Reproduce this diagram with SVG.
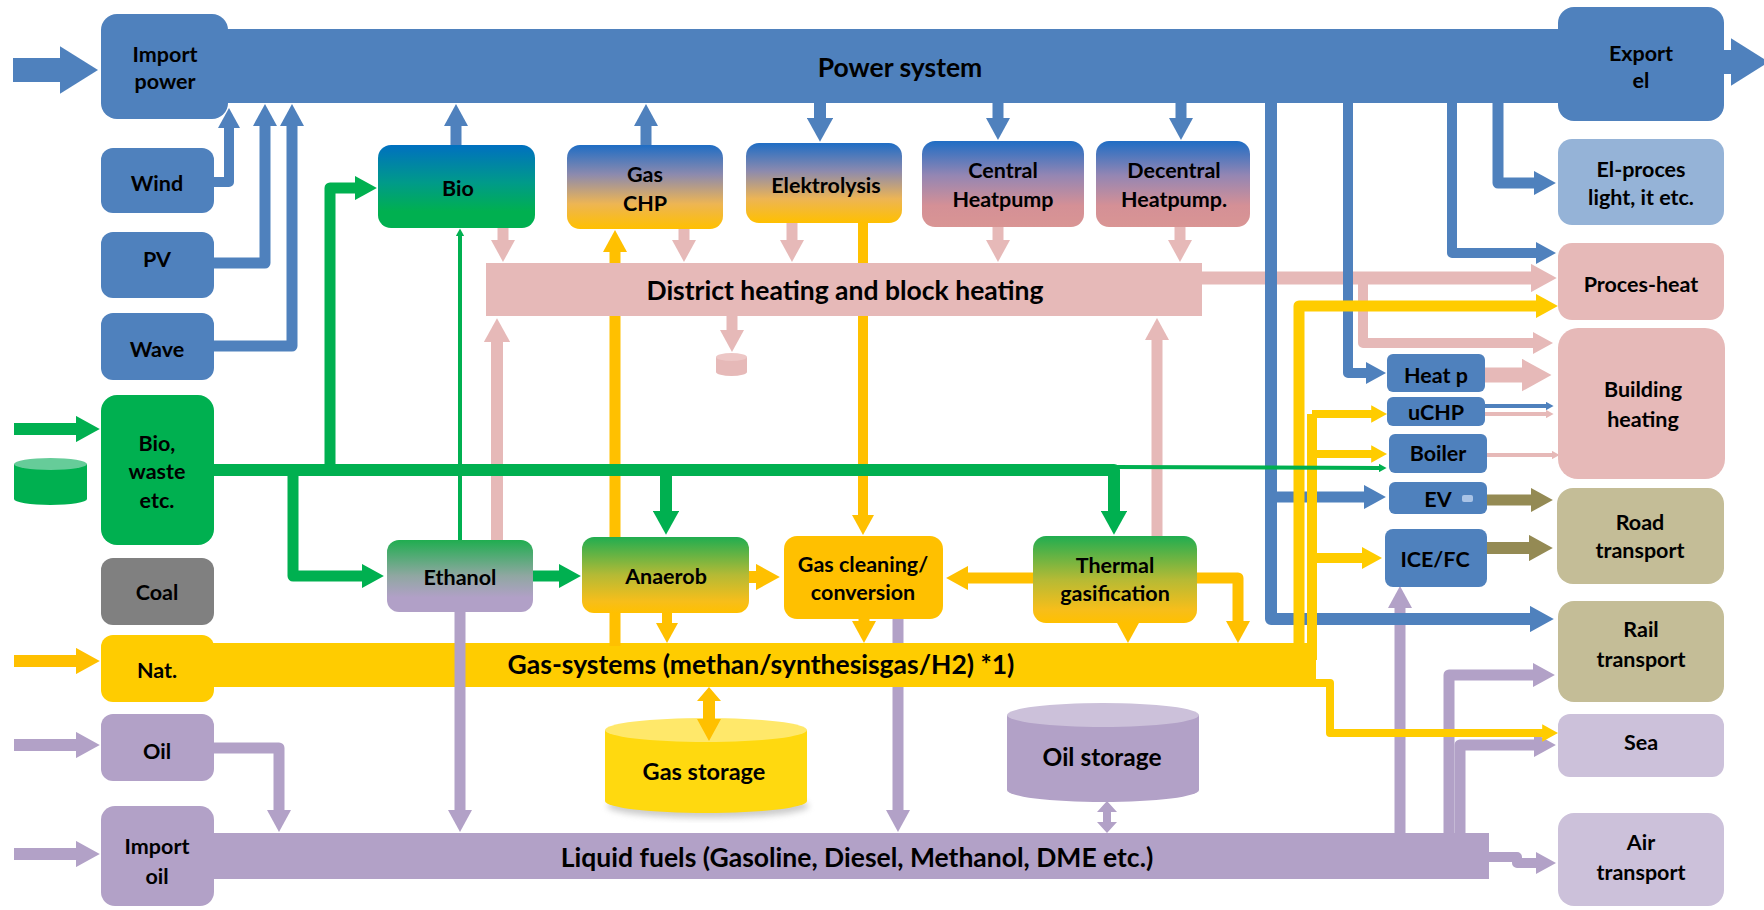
<svg xmlns="http://www.w3.org/2000/svg" width="1764" height="910" viewBox="0 0 1764 910">
<style>
.t{font-family:Lato,"Liberation Sans",sans-serif;font-weight:700;font-size:21.5px;fill:#000;text-anchor:middle}
.tl{font-size:26.5px}
.c{fill:none;stroke-linejoin:round;stroke-linecap:butt}
.b{stroke:#4F81BD;marker-end:url(#mb)}
.p{stroke:#B2A1C7;marker-end:url(#mp)}
.k{stroke:#E6B9B8;marker-end:url(#mk)}
.y{stroke:#FFC000;marker-end:url(#my)}
.y2{stroke:#FFCC00;marker-end:url(#my2)}
.g{stroke:#00B050;marker-end:url(#mg)}
.o{stroke:#948A54;marker-end:url(#mo)}
.nm{marker-end:none}
.blue{fill:#4F81BD}
.pink{fill:#E6B9B8}
.purp{fill:#B2A1C7}
.lpur{fill:#CCC1DA}
.khaki{fill:#C4BD97}
</style>
<defs>
<marker id="mb" viewBox="0 0 20 22" markerWidth="2" markerHeight="2.2" refX="1" refY="11" orient="auto"><path d="M0,0L20,11L0,22Z" fill="#4F81BD"/></marker>
<marker id="mbig" viewBox="0 0 16 20" markerWidth="1.6" markerHeight="2" refX="1" refY="10" orient="auto"><path d="M0,0L16,10L0,20Z" fill="#4F81BD"/></marker>
<marker id="mp" viewBox="0 0 20 22" markerWidth="2" markerHeight="2.2" refX="1" refY="11" orient="auto"><path d="M0,0L20,11L0,22Z" fill="#B2A1C7"/></marker>
<marker id="mk" viewBox="0 0 20 22" markerWidth="2" markerHeight="2.2" refX="1" refY="11" orient="auto"><path d="M0,0L20,11L0,22Z" fill="#E6B9B8"/></marker>
<marker id="my" viewBox="0 0 20 22" markerWidth="2" markerHeight="2.2" refX="1" refY="11" orient="auto"><path d="M0,0L20,11L0,22Z" fill="#FFC000"/></marker>
<marker id="my2" viewBox="0 0 20 22" markerWidth="2" markerHeight="2.2" refX="1" refY="11" orient="auto"><path d="M0,0L20,11L0,22Z" fill="#FFCC00"/></marker>
<marker id="mg" viewBox="0 0 20 22" markerWidth="2" markerHeight="2.2" refX="1" refY="11" orient="auto"><path d="M0,0L20,11L0,22Z" fill="#00B050"/></marker>
<marker id="mo" viewBox="0 0 20 22" markerWidth="2" markerHeight="2.2" refX="1" refY="11" orient="auto"><path d="M0,0L20,11L0,22Z" fill="#948A54"/></marker>
<linearGradient id="gBio" x1="0" y1="0" x2="0" y2="1"><stop offset="0" stop-color="#0070C0"/><stop offset="0.45" stop-color="#009A8A"/><stop offset="0.8" stop-color="#00B050"/><stop offset="1" stop-color="#00B050"/></linearGradient>
<linearGradient id="gGas" x1="0" y1="0" x2="0" y2="1"><stop offset="0" stop-color="#1F6DC4"/><stop offset="0.35" stop-color="#8C8AAE"/><stop offset="0.7" stop-color="#EDB554"/><stop offset="1" stop-color="#FFC000"/></linearGradient>
<linearGradient id="gHP" x1="0" y1="0" x2="0" y2="1"><stop offset="0" stop-color="#1F6DC4"/><stop offset="0.4" stop-color="#9486B3"/><stop offset="0.75" stop-color="#D49096"/><stop offset="1" stop-color="#D99594"/></linearGradient>
<linearGradient id="gEth" x1="0" y1="0" x2="0" y2="1"><stop offset="0" stop-color="#20AD50"/><stop offset="0.5" stop-color="#90A7A2"/><stop offset="0.8" stop-color="#B1A0C7"/><stop offset="1" stop-color="#B1A0C7"/></linearGradient>
<linearGradient id="gAn" x1="0" y1="0" x2="0" y2="1"><stop offset="0" stop-color="#20AD50"/><stop offset="0.5" stop-color="#B5BA35"/><stop offset="0.85" stop-color="#F7BE1A"/><stop offset="1" stop-color="#FFC000"/></linearGradient>
<filter id="sh" x="-10%" y="-10%" width="120%" height="130%"><feGaussianBlur stdDeviation="3"/></filter>
</defs>

<g id="buses">
<g id="power-system"><rect x="200" y="29" width="1380" height="74" class="blue"/><text class="t tl" x="900" y="77">Power system</text></g>
<g id="district-heating"><rect x="486" y="263" width="716" height="53" class="pink"/><text class="t tl" x="845" y="300">District heating and block heating</text></g>
<g id="gas-systems"><rect x="200" y="643" width="1116" height="44" fill="#FFCC00"/><text class="t tl" x="761" y="674">Gas-systems (methan/synthesisgas/H2) *1)</text></g>
<g id="liquid-fuels"><rect x="200" y="833" width="1289" height="46" class="purp"/><text class="t tl" x="857" y="867">Liquid fuels (Gasoline, Diesel, Methanol, DME etc.)</text></g>
</g>

<g id="storages">
<g id="gas-storage"><ellipse cx="708" cy="806" rx="101" ry="12" fill="#999" opacity="0.5" filter="url(#sh)"/><path d="M605,730L605,801A101,12 0 0 0 807,801L807,730Z" fill="#FFD90F"/><ellipse cx="706" cy="730" rx="101" ry="12" fill="#FFE86A"/><text class="t" x="704" y="780" style="font-size:23.5px">Gas storage</text></g>
<g id="oil-storage"><path d="M1007,715L1007,790A96,12 0 0 0 1199,790L1199,715Z" fill="#B2A1C7"/><ellipse cx="1103" cy="715" rx="96" ry="12" fill="#CCC1DA"/><text class="t" x="1102" y="766" style="font-size:24.5px">Oil storage</text></g>
<g id="heat-store"><path d="M716,357L716,372A15.5,4 0 0 0 747,372L747,357Z" fill="#E6B9B8"/><ellipse cx="731.5" cy="357" rx="15.5" ry="4" fill="#EDC7C6"/></g>
<g id="bio-store"><path d="M14,464L14,499A36.5,6 0 0 0 87,499L87,464Z" fill="#00B050"/><ellipse cx="50.5" cy="464" rx="36.5" ry="6" fill="#66CC99"/></g>
</g>

<g id="connectors">
<!-- purple -->
<polyline class="c p" stroke-width="12" points="14,745 77,745"/>
<polyline class="c p" stroke-width="12" points="14,854 77,854"/>
<polyline class="c p" stroke-width="11" points="214,748 279,748 279,811"/>
<polyline class="c p" stroke-width="11" points="460,610 460,811"/>
<polyline class="c p nm" stroke-width="11" points="898,615 898,643"/>
<polyline class="c p" stroke-width="11" points="898,687 898,811"/>
<polyline class="c p" stroke-width="11" points="1400,840 1400,607"/>
<polyline class="c p" stroke-width="11" points="1449,840 1449,675 1534,675"/>
<polyline class="c p" stroke-width="11" points="1460,840 1460,745 1535,745"/>
<polyline class="c p" stroke-width="10" points="1480,857 1517,857 1517,863 1537,863"/>
<polygon fill="#B2A1C7" points="1107,801 1117,812 1111,812 1111,822 1117,822 1107,833 1097,822 1103,822 1103,812 1097,812"/>
<!-- pink -->
<polyline class="c k" stroke-width="11" points="503,226 503,241"/>
<polyline class="c k" stroke-width="11" points="684,227 684,241"/>
<polyline class="c k" stroke-width="11" points="792,221 792,241"/>
<polyline class="c k" stroke-width="11" points="998,225 998,241"/>
<polyline class="c k" stroke-width="11" points="1180,225 1180,241"/>
<polyline class="c k" stroke-width="11" points="732,314 732,331"/>
<polyline class="c k" stroke-width="12" points="497,542 497,341"/>
<polyline class="c k" stroke-width="11" points="1157,538 1157,339"/>
<polyline class="c k" stroke-width="13" points="1195,278 1532,278"/>
<polyline class="c k" stroke-width="10" points="1363,278 1363,343 1534,343"/>
<polyline class="c k" stroke-width="15" points="1483,375 1523,375"/>
<polyline class="c k" stroke-width="4" points="1483,414 1546,414"/>
<polyline class="c k" stroke-width="4" points="1485,455 1552,455"/>
<!-- blue -->
<polyline class="c b" stroke-width="24" points="13,70 62,70" style="marker-end:url(#mbig)"/>
<polyline class="c b" stroke-width="24" points="1700,62 1733,62" style="marker-end:url(#mbig)"/>
<polyline class="c b" stroke-width="10" points="212,182 229,182 229,127"/>
<polyline class="c b" stroke-width="11" points="212,263 265,263 265,125"/>
<polyline class="c b" stroke-width="11" points="212,346 292,346 292,125"/>
<polyline class="c b" stroke-width="11" points="456,147 456,125"/>
<polyline class="c b" stroke-width="11" points="646,147 646,125"/>
<polyline class="c b" stroke-width="12" points="820,100 820,119"/>
<polyline class="c b" stroke-width="11" points="998,100 998,119"/>
<polyline class="c b" stroke-width="11" points="1181,100 1181,119"/>
<polyline class="c b" stroke-width="11" points="1498,100 1498,183 1535,183"/>
<polyline class="c b" stroke-width="10" points="1452,100 1452,253 1537,253"/>
<polyline class="c b" stroke-width="10" points="1348,100 1348,373 1367,373"/>
<polyline class="c b" stroke-width="12" points="1271,100 1271,619 1531,619"/>
<polyline class="c b" stroke-width="11" points="1271,497 1365,497"/>
<polyline class="c b" stroke-width="4" points="1483,406 1546,406"/>
<!-- yellow -->
<polyline class="c y" stroke-width="12" points="14,661 77,661"/>
<polyline class="c y nm" stroke-width="11" points="615,646 615,316"/>
<polyline class="c y" stroke-width="11" points="615,263 615,251"/>
<polyline class="c y nm" stroke-width="10" points="863,221 863,263"/>
<polyline class="c y" stroke-width="10" points="863,316 863,516"/>
<polyline class="c y" stroke-width="12" points="747,577 757,577"/>
<polyline class="c y" stroke-width="11" points="1035,578 967,578"/>
<polyline class="c y" stroke-width="10" points="667,611 667,624"/>
<polyline class="c y" stroke-width="11" points="864,615 864,622"/>
<polyline class="c y" stroke-width="11" points="1128,615 1128,622"/>
<polyline class="c y" stroke-width="11" points="1190,578 1238,578 1238,622"/>
<polyline class="c y2" stroke-width="11" points="1299,660 1299,306 1537,306"/>
<polyline class="c y2 nm" stroke-width="10" points="1312,660 1312,414"/>
<polyline class="c y2" stroke-width="8" points="1312,414 1372,414"/>
<polyline class="c y2" stroke-width="8" points="1312,454 1372,454"/>
<polyline class="c y2" stroke-width="10" points="1312,558 1363,558"/>
<polyline class="c y2" stroke-width="8" points="1300,683 1330,683 1330,733 1543,733"/>
<polygon fill="#FFC000" points="709,687 721,701 715,701 715,719 721,719 709,741 697,719 703,719 703,701 697,701"/>
<!-- green -->
<polyline class="c g" stroke-width="12" points="14,429 77,429"/>
<polyline class="c g" stroke-width="12" points="212,470 1114,470 1114,512"/>
<polyline class="c g" stroke-width="11" points="330,470 330,188 356,188"/>
<polyline class="c g" stroke-width="11" points="293,470 293,576 363,576"/>
<polyline class="c g" stroke-width="12" points="666,470 666,512"/>
<polyline class="c g" stroke-width="4" points="1114,467 1379,468"/>
<polyline class="c g" stroke-width="4" points="460,542 460,236"/>
<polyline class="c g" stroke-width="11" points="531,576 560,576"/>
<!-- olive -->
<polyline class="c o" stroke-width="11" points="1485,500 1532,500"/>
<polyline class="c o" stroke-width="12" points="1485,548 1530,548"/>
</g>

<g id="nodes">
<g id="import-power"><rect x="101" y="14" width="127" height="105" rx="16" class="blue"/><text class="t" x="165" y="62">Import</text><text class="t" x="165" y="89">power</text></g>
<g id="wind"><rect x="101" y="148" width="113" height="65" rx="12" class="blue"/><text class="t" x="157" y="191">Wind</text></g>
<g id="pv"><rect x="101" y="232" width="113" height="66" rx="12" class="blue"/><text class="t" x="157" y="267">PV</text></g>
<g id="wave"><rect x="101" y="313" width="113" height="67" rx="12" class="blue"/><text class="t" x="157" y="357">Wave</text></g>
<g id="bio-waste"><rect x="101" y="395" width="113" height="150" rx="16" fill="#00B050"/><text class="t" x="157" y="451">Bio,</text><text class="t" x="157" y="479">waste</text><text class="t" x="157" y="508">etc.</text></g>
<g id="coal"><rect x="101" y="558" width="113" height="67" rx="12" fill="#808080"/><text class="t" x="157" y="600">Coal</text></g>
<g id="nat"><rect x="101" y="635" width="113" height="67" rx="12" fill="#FFCC00"/><text class="t" x="157" y="678">Nat.</text></g>
<g id="oil"><rect x="101" y="714" width="113" height="67" rx="12" class="purp"/><text class="t" x="157" y="759">Oil</text></g>
<g id="import-oil"><rect x="101" y="806" width="113" height="100" rx="14" class="purp"/><text class="t" x="157" y="854">Import</text><text class="t" x="157" y="884">oil</text></g>

<g id="bio"><rect x="378" y="145" width="157" height="83" rx="13" fill="url(#gBio)"/><text class="t" x="458" y="196">Bio</text></g>
<g id="gas-chp"><rect x="567" y="145" width="156" height="84" rx="13" fill="url(#gGas)"/><text class="t" x="645" y="182">Gas</text><text class="t" x="645" y="211">CHP</text></g>
<g id="elektrolysis"><rect x="746" y="143" width="156" height="80" rx="13" fill="url(#gGas)"/><text class="t" x="826" y="193">Elektrolysis</text></g>
<g id="central-heatpump"><rect x="922" y="141" width="162" height="86" rx="13" fill="url(#gHP)"/><text class="t" x="1003" y="178">Central</text><text class="t" x="1003" y="207">Heatpump</text></g>
<g id="decentral-heatpump"><rect x="1096" y="141" width="154" height="86" rx="13" fill="url(#gHP)"/><text class="t" x="1174" y="178">Decentral</text><text class="t" x="1174" y="207">Heatpump.</text></g>

<g id="ethanol"><rect x="387" y="540" width="146" height="72" rx="12" fill="url(#gEth)"/><text class="t" x="460" y="585">Ethanol</text></g>
<g id="anaerob"><rect x="582" y="537" width="167" height="76" rx="12" fill="url(#gAn)"/><text class="t" x="666" y="584">Anaerob</text></g>
<g id="gas-cleaning"><rect x="784" y="536" width="159" height="83" rx="13" fill="#FFC000"/><text class="t" x="863" y="572">Gas cleaning/</text><text class="t" x="863" y="600">conversion</text></g>
<g id="thermal-gasification"><rect x="1033" y="536" width="164" height="87" rx="13" fill="url(#gAn)"/><text class="t" x="1115" y="573">Thermal</text><text class="t" x="1115" y="601">gasification</text></g>

<g id="heat-p"><rect x="1387" y="354" width="98" height="38" rx="6" class="blue"/><text class="t" x="1436" y="383">Heat p</text></g>
<g id="uchp"><rect x="1387" y="397" width="98" height="29" rx="6" class="blue"/><text class="t" x="1436" y="420">uCHP</text></g>
<g id="boiler"><rect x="1389" y="434" width="98" height="39" rx="6" class="blue"/><text class="t" x="1438" y="461">Boiler</text></g>
<g id="ev"><rect x="1389" y="482" width="98" height="32" rx="6" class="blue"/><text class="t" x="1438" y="507">EV</text><rect x="1462" y="495" width="11" height="7" rx="2" fill="#A9C3E6"/></g>
<g id="ice-fc"><rect x="1385" y="529" width="102" height="58" rx="8" class="blue"/><text class="t" x="1435" y="567">ICE/FC</text></g>

<g id="export-el"><rect x="1558" y="7" width="166" height="114" rx="16" class="blue"/><text class="t" x="1641" y="61">Export</text><text class="t" x="1641" y="88">el</text></g>
<g id="el-proces"><rect x="1558" y="139" width="166" height="86" rx="14" fill="#95B3D7"/><text class="t" x="1641" y="177">El-proces</text><text class="t" x="1641" y="205">light, it etc.</text></g>
<g id="proces-heat"><rect x="1558" y="243" width="166" height="77" rx="14" class="pink"/><text class="t" x="1641" y="292">Proces-heat</text></g>
<g id="building-heating"><rect x="1558" y="328" width="167" height="151" rx="20" class="pink"/><text class="t" x="1643" y="397">Building</text><text class="t" x="1643" y="427">heating</text></g>
<g id="road-transport"><rect x="1557" y="488" width="167" height="96" rx="16" class="khaki"/><text class="t" x="1640" y="530">Road</text><text class="t" x="1640" y="558">transport</text></g>
<g id="rail-transport"><rect x="1558" y="601" width="166" height="101" rx="16" class="khaki"/><text class="t" x="1641" y="637">Rail</text><text class="t" x="1641" y="667">transport</text></g>
<g id="sea"><rect x="1558" y="714" width="166" height="63" rx="12" class="lpur"/><text class="t" x="1641" y="750">Sea</text></g>
<g id="air-transport"><rect x="1558" y="813" width="166" height="93" rx="16" class="lpur"/><text class="t" x="1641" y="850">Air</text><text class="t" x="1641" y="880">transport</text></g>
</g>
</svg>
